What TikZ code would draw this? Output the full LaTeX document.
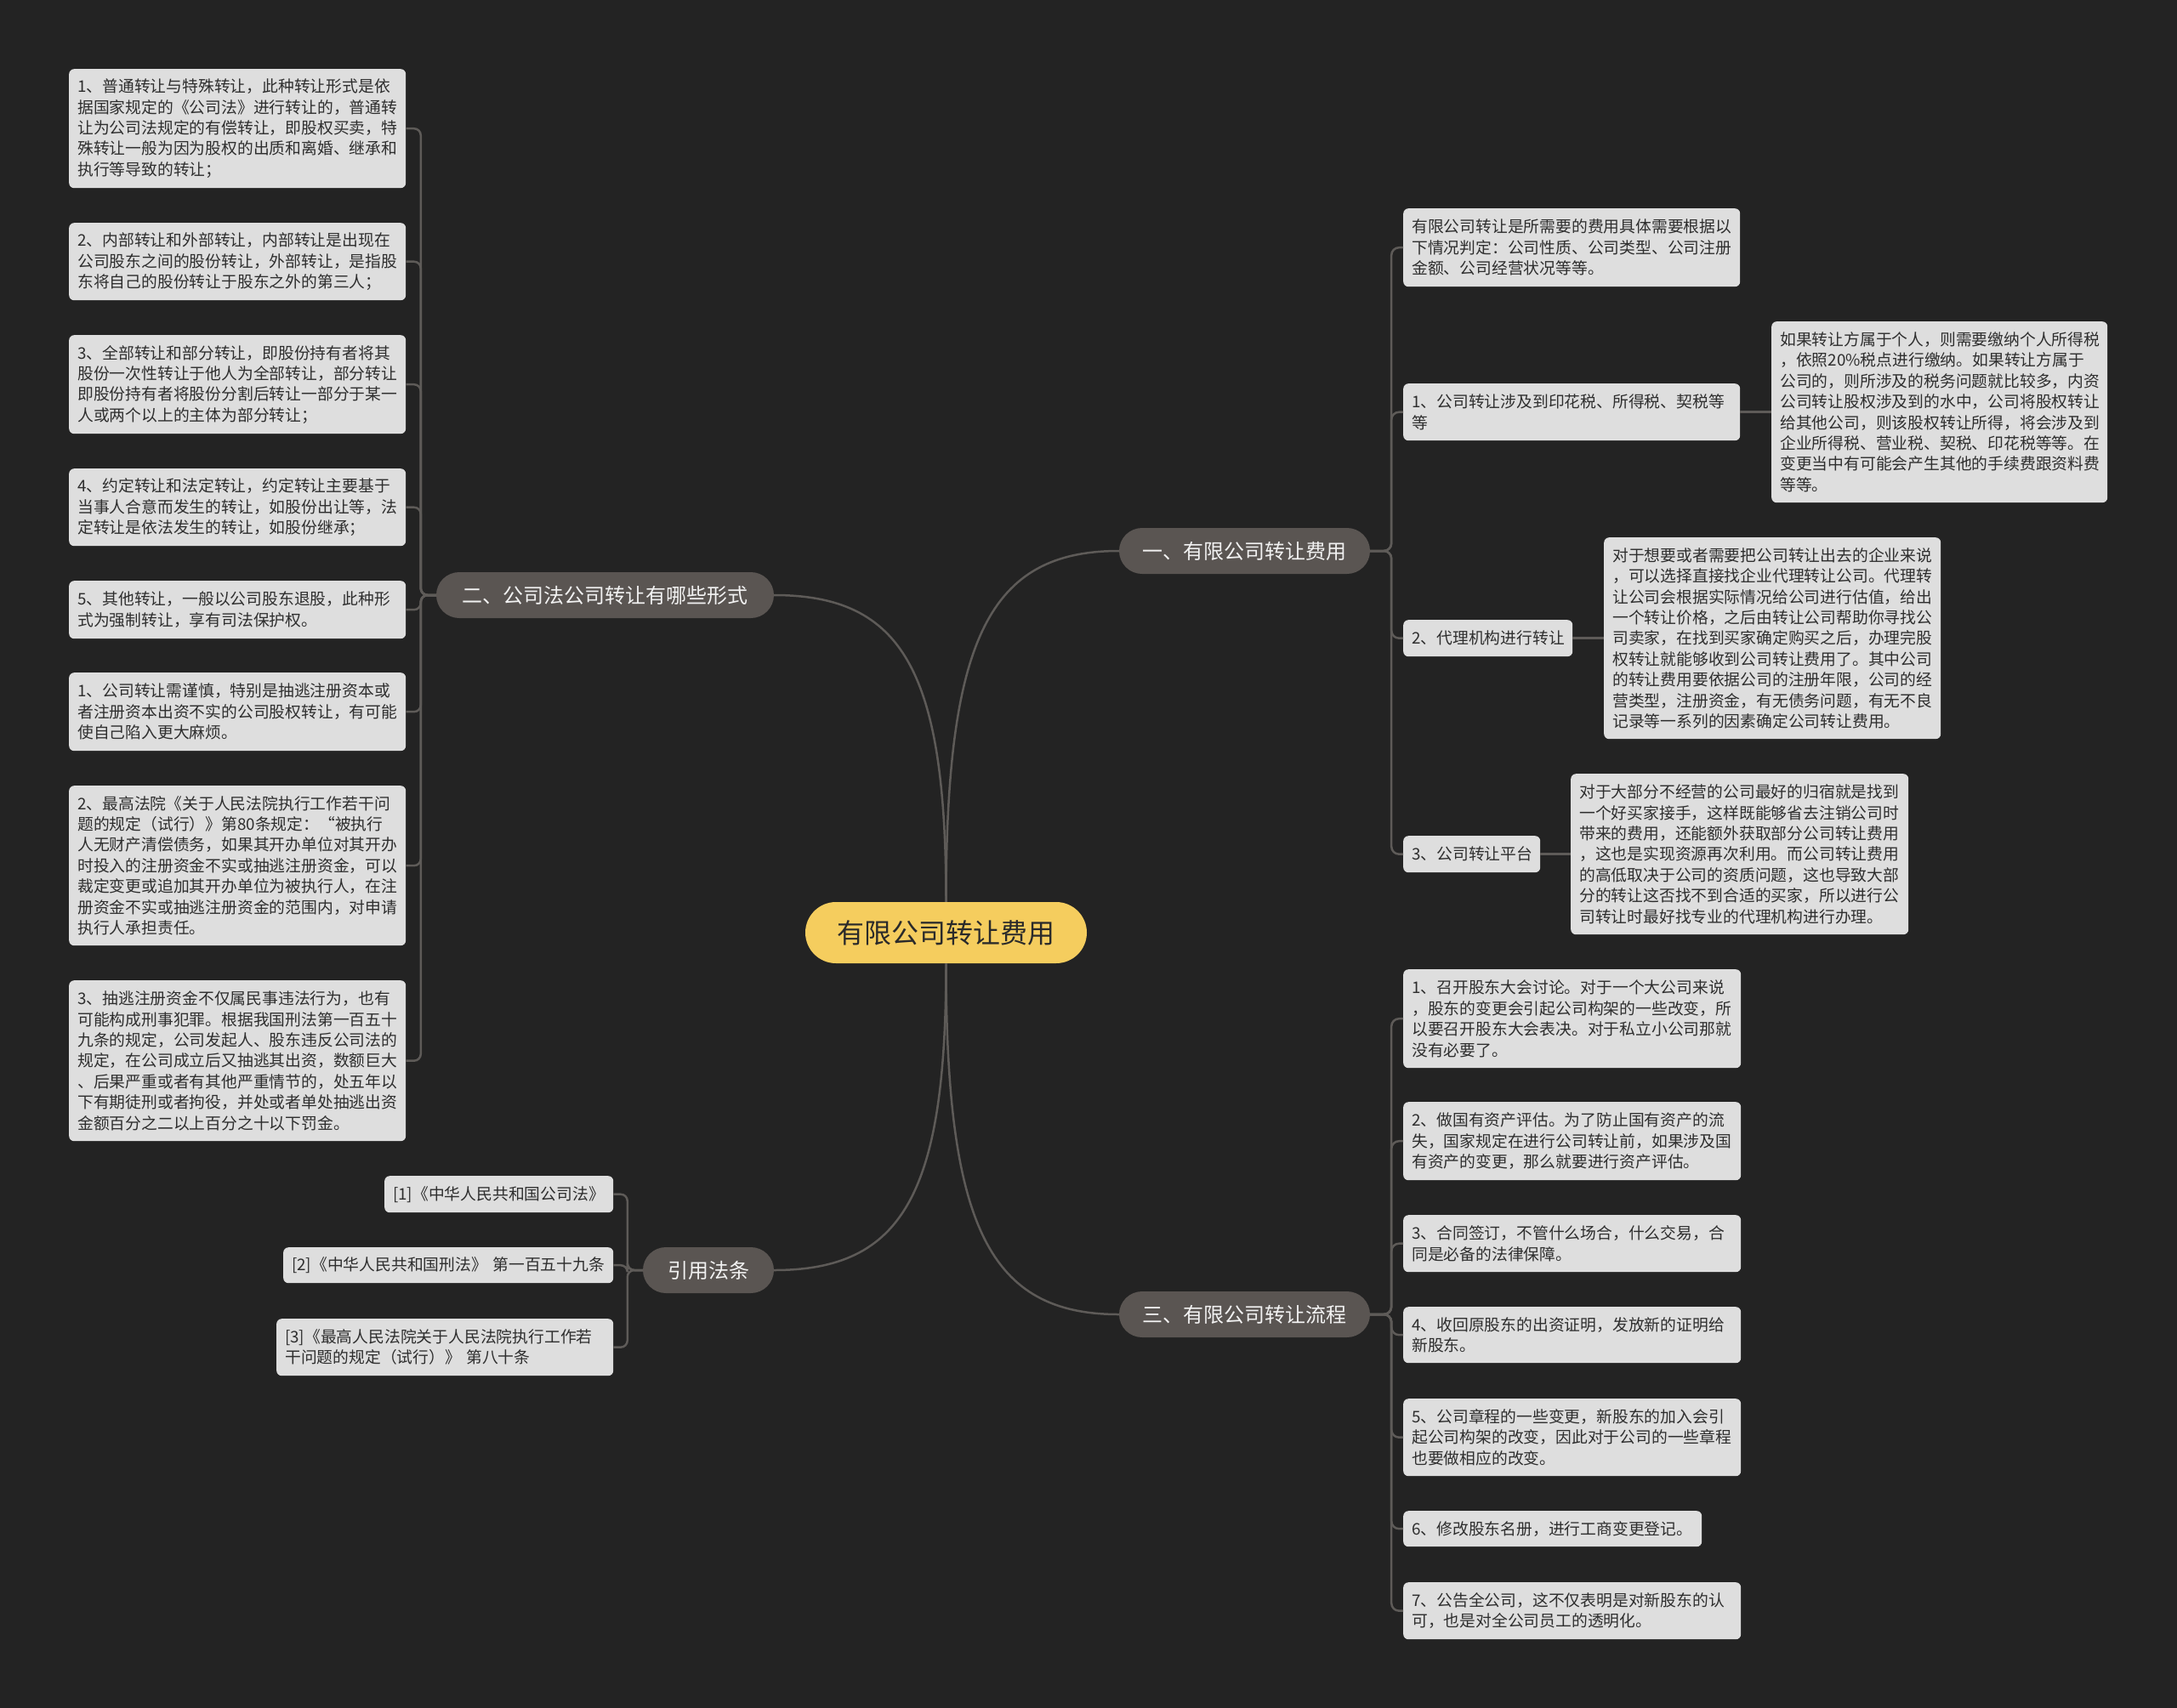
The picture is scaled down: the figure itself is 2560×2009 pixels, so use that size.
\documentclass[tikz,border=0pt]{standalone}
\usepackage{fontspec}
\setmainfont{Noto Sans CJK SC}
\usetikzlibrary{calc}
\definecolor{bg}{HTML}{232323}
\definecolor{leaffill}{HTML}{DEDEDE}
\definecolor{leaftext}{HTML}{2E2E2E}
\definecolor{mainfill}{HTML}{5A5552}
\definecolor{maintext}{HTML}{F2F2F2}
\definecolor{rootfill}{HTML}{F5CD5E}
\definecolor{roottext}{HTML}{2A2A2A}
\definecolor{linec}{HTML}{5E5B58}
\tikzset{
  leaf/.style={fill=leaffill, text=leaftext, rounded corners=6pt, inner xsep=10pt, inner ysep=0pt, align=left, font=\fontsize{18.8}{24.4}\selectfont},
  mainnode/.style={fill=mainfill, text=maintext, rounded corners=27pt, inner sep=0pt, minimum height=54pt, font=\fontsize{24}{28}\selectfont},
  rootnode/.style={fill=rootfill, text=roottext, rounded corners=36pt, inner sep=0pt, minimum height=72pt, minimum width=331pt, font=\fontsize{32}{36}\selectfont},
  conn/.style={draw=linec, line width=2.5pt},
}
\newcommand\leafnode[6]{%
  \pgfmathsetmacro\lw{#4-20}%
  \node[leaf, text width=\lw pt, minimum height=#5pt, anchor=north west] (#1) at (#2,#3) {#6};}
\begin{document}
\begin{tikzpicture}[x=1pt,y=-1pt]
\fill[bg] (0,0) rectangle (2560,2009);
\useasboundingbox (0,0) rectangle (2560,2009);

% root and main branches
\node[rootnode] (m) at (1112.5,1097) {有限公司转让费用};
\node[mainnode, minimum width=295pt] (L1) at (1463.5,648) {一、有限公司转让费用};
\node[mainnode, minimum width=397pt] (L2) at (711.5,700) {二、公司法公司转让有哪些形式};
\node[mainnode, minimum width=295pt] (L3) at (1463.5,1546) {三、有限公司转让流程};
\node[mainnode, minimum width=154pt] (L4) at (833,1494) {引用法条};

% branch 一
\leafnode{a1}{1650}{245}{396}{92}{有限公司转让是所需要的费用具体需要根据以\\下情况判定：公司性质、公司类型、公司注册\\金额、公司经营状况等等。}
\leafnode{a2}{1650}{451}{396}{67}{1、公司转让涉及到印花税、所得税、契税等\\等}
\leafnode{a2c}{2083}{378}{395}{213}{如果转让方属于个人，则需要缴纳个人所得税\\，依照20\%税点进行缴纳。如果转让方属于\\公司的，则所涉及的税务问题就比较多，内资\\公司转让股权涉及到的水中，公司将股权转让\\给其他公司，则该股权转让所得，将会涉及到\\企业所得税、营业税、契税、印花税等等。在\\变更当中有可能会产生其他的手续费跟资料费\\等等。}
\leafnode{a3}{1650}{729}{199}{43}{2、代理机构进行转让}
\leafnode{a3c}{1886}{632}{396}{237}{对于想要或者需要把公司转让出去的企业来说\\，可以选择直接找企业代理转让公司。代理转\\让公司会根据实际情况给公司进行估值，给出\\一个转让价格，之后由转让公司帮助你寻找公\\司卖家，在找到买家确定购买之后，办理完股\\权转让就能够收到公司转让费用了。其中公司\\的转让费用要依据公司的注册年限，公司的经\\营类型，注册资金，有无债务问题，有无不良\\记录等一系列的因素确定公司转让费用。}
\leafnode{a4}{1650}{983}{161}{43}{3、公司转让平台}
\leafnode{a4c}{1847}{910}{397}{189}{对于大部分不经营的公司最好的归宿就是找到\\一个好买家接手，这样既能够省去注销公司时\\带来的费用，还能额外获取部分公司转让费用\\，这也是实现资源再次利用。而公司转让费用\\的高低取决于公司的资质问题，这也导致大部\\分的转让这否找不到合适的买家，所以进行公\\司转让时最好找专业的代理机构进行办理。}

% branch 三
\leafnode{c1}{1650}{1140}{397}{116}{1、召开股东大会讨论。对于一个大公司来说\\，股东的变更会引起公司构架的一些改变，所\\以要召开股东大会表决。对于私立小公司那就\\没有必要了。}
\leafnode{c2}{1650}{1296}{397}{92}{2、做国有资产评估。为了防止国有资产的流\\失，国家规定在进行公司转让前，如果涉及国\\有资产的变更，那么就要进行资产评估。}
\leafnode{c3}{1650}{1429}{397}{67}{3、合同签订，不管什么场合，什么交易，合\\同是必备的法律保障。}
\leafnode{c4}{1650}{1537}{397}{66}{4、收回原股东的出资证明，发放新的证明给\\新股东。}
\leafnode{c5}{1650}{1645}{397}{91}{5、公司章程的一些变更，新股东的加入会引\\起公司构架的改变，因此对于公司的一些章程\\也要做相应的改变。}
\leafnode{c6}{1650}{1777}{351}{42}{6、修改股东名册，进行工商变更登记。}
\leafnode{c7}{1650}{1861}{397}{67}{7、公告全公司，这不仅表明是对新股东的认\\可，也是对全公司员工的透明化。}

% branch 二
\leafnode{b1}{81}{81}{396}{140}{1、普通转让与特殊转让，此种转让形式是依\\据国家规定的《公司法》进行转让的，普通转\\让为公司法规定的有偿转让，即股权买卖，特\\殊转让一般为因为股权的出质和离婚、继承和\\执行等导致的转让；}
\leafnode{b2}{81}{262}{396}{91}{2、内部转让和外部转让，内部转让是出现在\\公司股东之间的股份转让，外部转让，是指股\\东将自己的股份转让于股东之外的第三人；}
\leafnode{b3}{81}{394}{396}{116}{3、全部转让和部分转让，即股份持有者将其\\股份一次性转让于他人为全部转让，部分转让\\即股份持有者将股份分割后转让一部分于某一\\人或两个以上的主体为部分转让；}
\leafnode{b4}{81}{551}{396}{91}{4、约定转让和法定转让，约定转让主要基于\\当事人合意而发生的转让，如股份出让等，法\\定转让是依法发生的转让，如股份继承；}
\leafnode{b5}{81}{683}{396}{68}{5、其他转让，一般以公司股东退股，此种形\\式为强制转让，享有司法保护权。}
\leafnode{b6}{81}{791}{396}{92}{1、公司转让需谨慎，特别是抽逃注册资本或\\者注册资本出资不实的公司股权转让，有可能\\使自己陷入更大麻烦。}
\leafnode{b7}{81}{924}{396}{188}{2、最高法院《关于人民法院执行工作若干问\\题的规定（试行）》第80条规定：“被执行\\人无财产清偿债务，如果其开办单位对其开办\\时投入的注册资金不实或抽逃注册资金，可以\\裁定变更或追加其开办单位为被执行人，在注\\册资金不实或抽逃注册资金的范围内，对申请\\执行人承担责任。}
\leafnode{b8}{81}{1153}{396}{189}{3、抽逃注册资金不仅属民事违法行为，也有\\可能构成刑事犯罪。根据我国刑法第一百五十\\九条的规定，公司发起人、股东违反公司法的\\规定，在公司成立后又抽逃其出资，数额巨大\\、后果严重或者有其他严重情节的，处五年以\\下有期徒刑或者拘役，并处或者单处抽逃出资\\金额百分之二以上百分之十以下罚金。}

% branch 引用法条
\leafnode{r1}{452}{1383}{269}{43}{[1]《中华人民共和国公司法》}
\leafnode{r2}{333}{1467}{388}{42}{[2]《中华人民共和国刑法》 第一百五十九条}
\leafnode{r3}{325}{1551}{396}{67}{[3]《最高人民法院关于人民法院执行工作若\\干问题的规定（试行）》 第八十条}

% root connectors
\coordinate (k1) at (m.north |- L1.west);
\coordinate (k2) at (m.north |- L2.east);
\coordinate (k3) at (m.south |- L3.west);
\coordinate (k4) at (m.south |- L4.east);
\draw[conn] (m.north) .. controls ($(m.north)!0.75!(k1)$) and ($(k1)!0.25!(L1.west)$) .. (L1.west);
\draw[conn] (m.north) .. controls ($(m.north)!0.75!(k2)$) and ($(k2)!0.25!(L2.east)$) .. (L2.east);
\draw[conn] (m.south) .. controls ($(m.south)!0.75!(k3)$) and ($(k3)!0.25!(L3.west)$) .. (L3.west);
\draw[conn] (m.south) .. controls ($(m.south)!0.75!(k4)$) and ($(k4)!0.25!(L4.east)$) .. (L4.east);

% branch connectors
\foreach \c in {a1,a2,a3,a4}
  \draw[conn, rounded corners=9pt] (L1.east) -- ++(25,0) |- (\c.west);
\foreach \c in {c1,c2,c3,c4,c5,c6,c7}
  \draw[conn, rounded corners=9pt] (L3.east) -- ++(25,0) |- (\c.west);
\foreach \c in {b1,b2,b3,b4,b5,b6,b7,b8}
  \draw[conn, rounded corners=8pt] (L2.west) -- ++(-18,0) |- (\c.east);
\foreach \c in {r1,r2,r3}
  \draw[conn, rounded corners=8pt] (L4.west) -- ++(-18,0) |- (\c.east);
\draw[conn] (a2.east) -- (a2c.west);
\draw[conn] (a3.east) -- (a3c.west);
\draw[conn] (a4.east) -- (a4c.west);
\end{tikzpicture}
\end{document}
